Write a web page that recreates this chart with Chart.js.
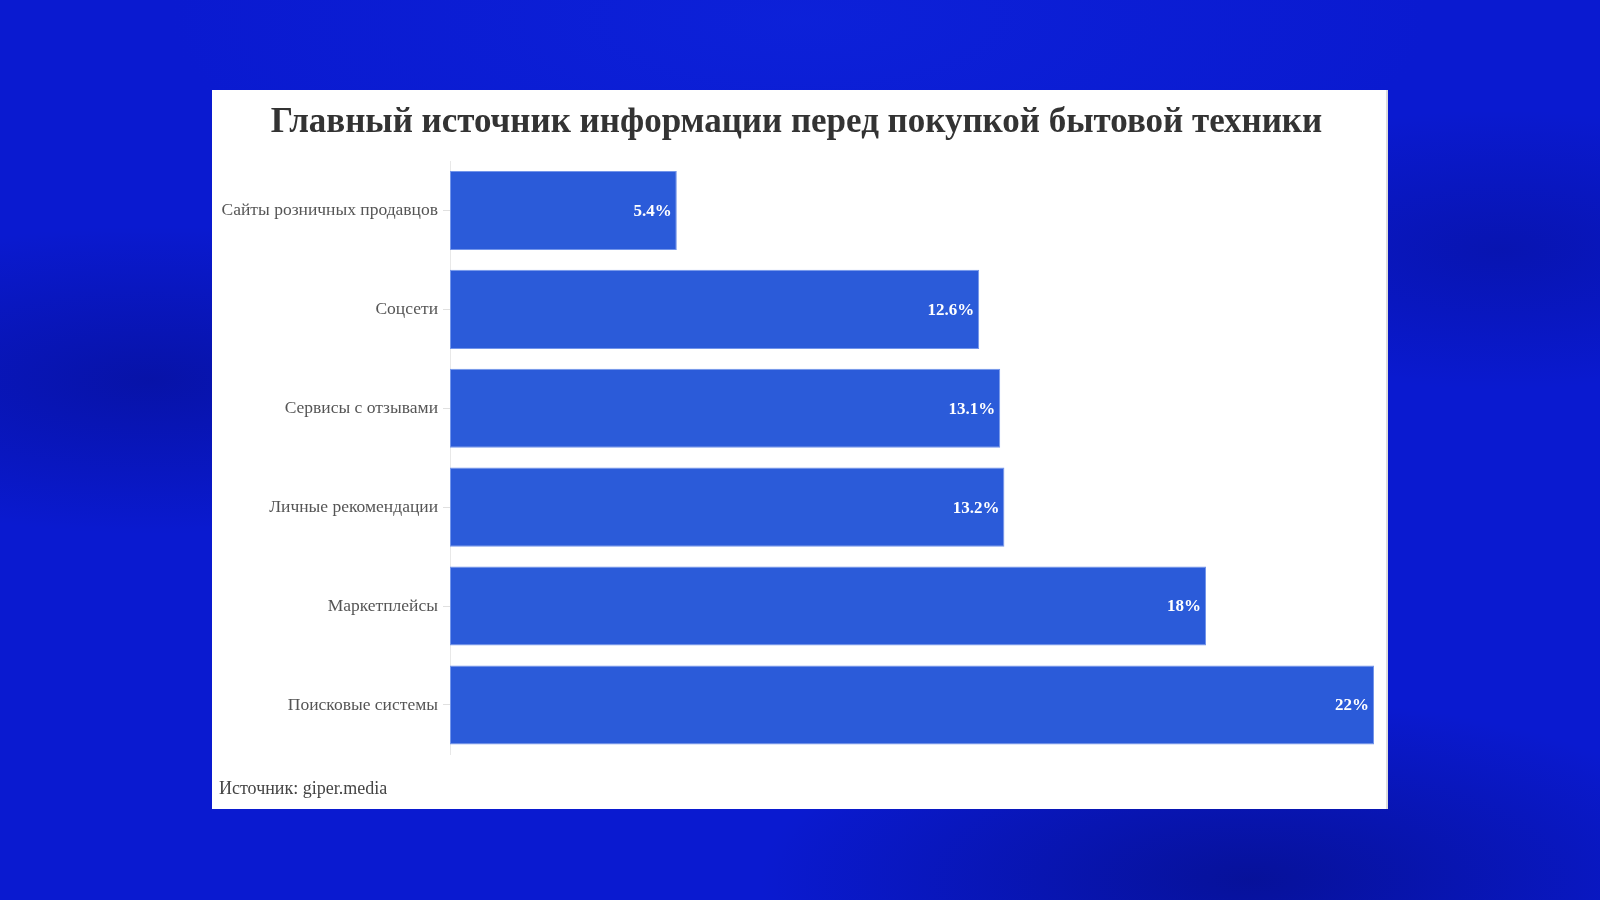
<!DOCTYPE html>
<html lang="ru">
<head>
<meta charset="utf-8">
<title>Главный источник информации перед покупкой бытовой техники</title>
<script src="https://cdn.jsdelivr.net/npm/chart.js@4.4.1/dist/chart.umd.min.js"></script>
<style>
  html, body { margin: 0; padding: 0; }
  body {
    width: 1600px; height: 900px; overflow: hidden; position: relative;
    background:
      radial-gradient(ellipse 700px 260px at 1250px 880px, rgba(4,10,110,0.55), rgba(4,10,110,0) 70%),
      radial-gradient(ellipse 600px 220px at 150px 380px, rgba(4,10,120,0.45), rgba(4,10,120,0) 70%),
      radial-gradient(ellipse 500px 200px at 1500px 250px, rgba(4,10,120,0.35), rgba(4,10,120,0) 70%),
      radial-gradient(ellipse 900px 300px at 800px 20px, rgba(15,40,225,0.5), rgba(15,40,225,0) 70%),
      #0a1ad0;
  }
  #card {
    position: absolute; left: 212px; top: 90px; width: 1176px; height: 719px;
    background: #fff; border-right: 2px solid #dcdcdc; box-sizing: border-box;
  }
  #card canvas { display: block; }
</style>
</head>
<body>
<div id="card"><canvas id="chart" width="1174" height="719"></canvas></div>
<script>
// data
const categories = [
  'Сайты розничных продавцов',
  'Соцсети',
  'Сервисы с отзывами',
  'Личные рекомендации',
  'Маркетплейсы',
  'Поисковые системы'
];
const shares = [5.4, 12.6, 13.1, 13.2, 18, 22];
const valueLabels = ['5.4%', '12.6%', '13.1%', '13.2%', '18%', '22%'];

const serif = '"Liberation Serif", "DejaVu Serif", serif';

// white value labels at the end of each bar
const barValues = {
  id: 'barValues',
  afterDatasetsDraw(chart) {
    const ctx = chart.ctx;
    const meta = chart.getDatasetMeta(0);
    ctx.save();
    ctx.fillStyle = '#ffffff';
    ctx.font = 'bold 17px ' + serif;
    ctx.textAlign = 'right';
    ctx.textBaseline = 'middle';
    meta.data.forEach((bar, i) => {
      ctx.fillText(valueLabels[i], bar.x - 5, bar.y + 1);
    });
    ctx.restore();
  }
};

new Chart(document.getElementById('chart'), {
  type: 'bar',
  data: {
    labels: categories,
    datasets: [{
      data: shares,
      backgroundColor: '#2b5bd9',
      borderColor: '#7395ea',
      borderWidth: 1,
      borderSkipped: false,
      categoryPercentage: 0.8,
      barPercentage: 1.0
    }]
  },
  options: {
    indexAxis: 'y',
    responsive: false,
    animation: false,
    layout: { padding: { left: 7, right: 12, top: 0, bottom: 0 } },
    plugins: {
      legend: { display: false },
      tooltip: { enabled: false },
      title: {
        display: true,
        text: 'Главный источник информации перед покупкой бытовой техники',
        color: '#333333',
        font: { family: serif, size: 35, weight: 'bold' },
        padding: { top: 12, bottom: 17 }
      },
      subtitle: {
        display: true,
        position: 'bottom',
        align: 'start',
        text: 'Источник: giper.media',
        color: '#444444',
        font: { family: serif, size: 18 },
        padding: { top: 24, bottom: 9 }
      }
    },
    scales: {
      x: { display: false, min: 0, max: 22 },
      y: {
        afterFit(scale) { scale.width = 231; },
        border: { color: '#e8e8e8', width: 1 },
        grid: { offset: false, drawOnChartArea: false, drawTicks: true, tickLength: 7, color: '#e0e0e0' },
        ticks: { color: '#555555', font: { family: serif, size: 17.5 }, padding: 5 }
      }
    }
  },
  plugins: [barValues]
});
</script>
</body>
</html>
